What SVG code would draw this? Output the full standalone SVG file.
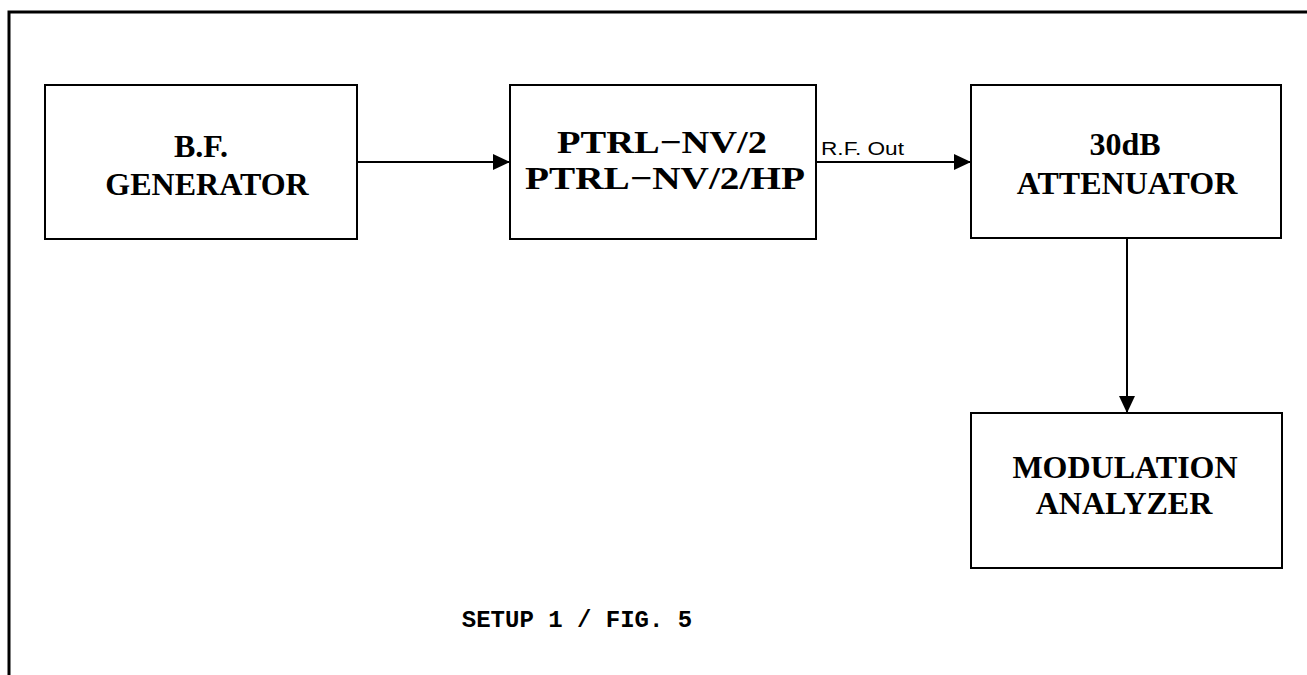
<svg xmlns="http://www.w3.org/2000/svg" width="1307" height="675" viewBox="0 0 1307 675">
<style>
.box{fill:#fff;stroke:#000;stroke-width:2}
.lbl{font-family:"Liberation Serif",serif;font-weight:bold;font-size:32px;text-anchor:middle;fill:#000}
.con{stroke:#000;stroke-width:2;fill:none}
.small{font-family:"Liberation Sans",sans-serif;font-size:18px;fill:#000}
.cap{font-family:"Liberation Mono",monospace;font-weight:bold;font-size:24px;text-anchor:middle;fill:#000}
</style>
<defs>
<marker id="ah" viewBox="0 0 17 16" refX="17" refY="8" markerWidth="17" markerHeight="16" markerUnits="userSpaceOnUse" orient="auto">
<path d="M0,0 L17,8 L0,16 Z" fill="#000"/>
</marker>
</defs>
<rect width="1307" height="675" fill="#fff"/>
<path d="M9,675 V12 H1307" fill="none" stroke="#000" stroke-width="3"/>
<g id="connectors">
<line class="con" x1="357" y1="162" x2="510" y2="162" marker-end="url(#ah)"/>
<line class="con" x1="816" y1="162" x2="971" y2="162" marker-end="url(#ah)"/>
<line class="con" x1="1127" y1="238" x2="1127" y2="413" marker-end="url(#ah)"/>
<text class="small" x="821" y="155" textLength="83" lengthAdjust="spacingAndGlyphs">R.F. Out</text>
</g>
<g id="bf">
<rect class="box" x="45" y="85" width="312" height="154"/>
<text class="lbl" x="201" y="157">B.F.</text>
<text class="lbl" x="207" y="195">GENERATOR</text>
</g>
<g id="ptrl">
<rect class="box" x="510" y="85" width="306" height="154"/>
<text class="lbl" x="662" y="153" font-size="33" textLength="210" lengthAdjust="spacingAndGlyphs">PTRL−NV/2</text>
<text class="lbl" x="665" y="189" font-size="33" textLength="280" lengthAdjust="spacingAndGlyphs">PTRL−NV/2/HP</text>
</g>
<g id="att">
<rect class="box" x="971" y="85" width="310" height="153"/>
<text class="lbl" x="1125" y="155">30dB</text>
<text class="lbl" x="1127" y="194">ATTENUATOR</text>
</g>
<g id="mod">
<rect class="box" x="971" y="413" width="311" height="155"/>
<text class="lbl" x="1125" y="478">MODULATION</text>
<text class="lbl" x="1124" y="514">ANALYZER</text>
</g>
<text class="cap" x="577" y="627">SETUP 1 / FIG. 5</text>
</svg>
